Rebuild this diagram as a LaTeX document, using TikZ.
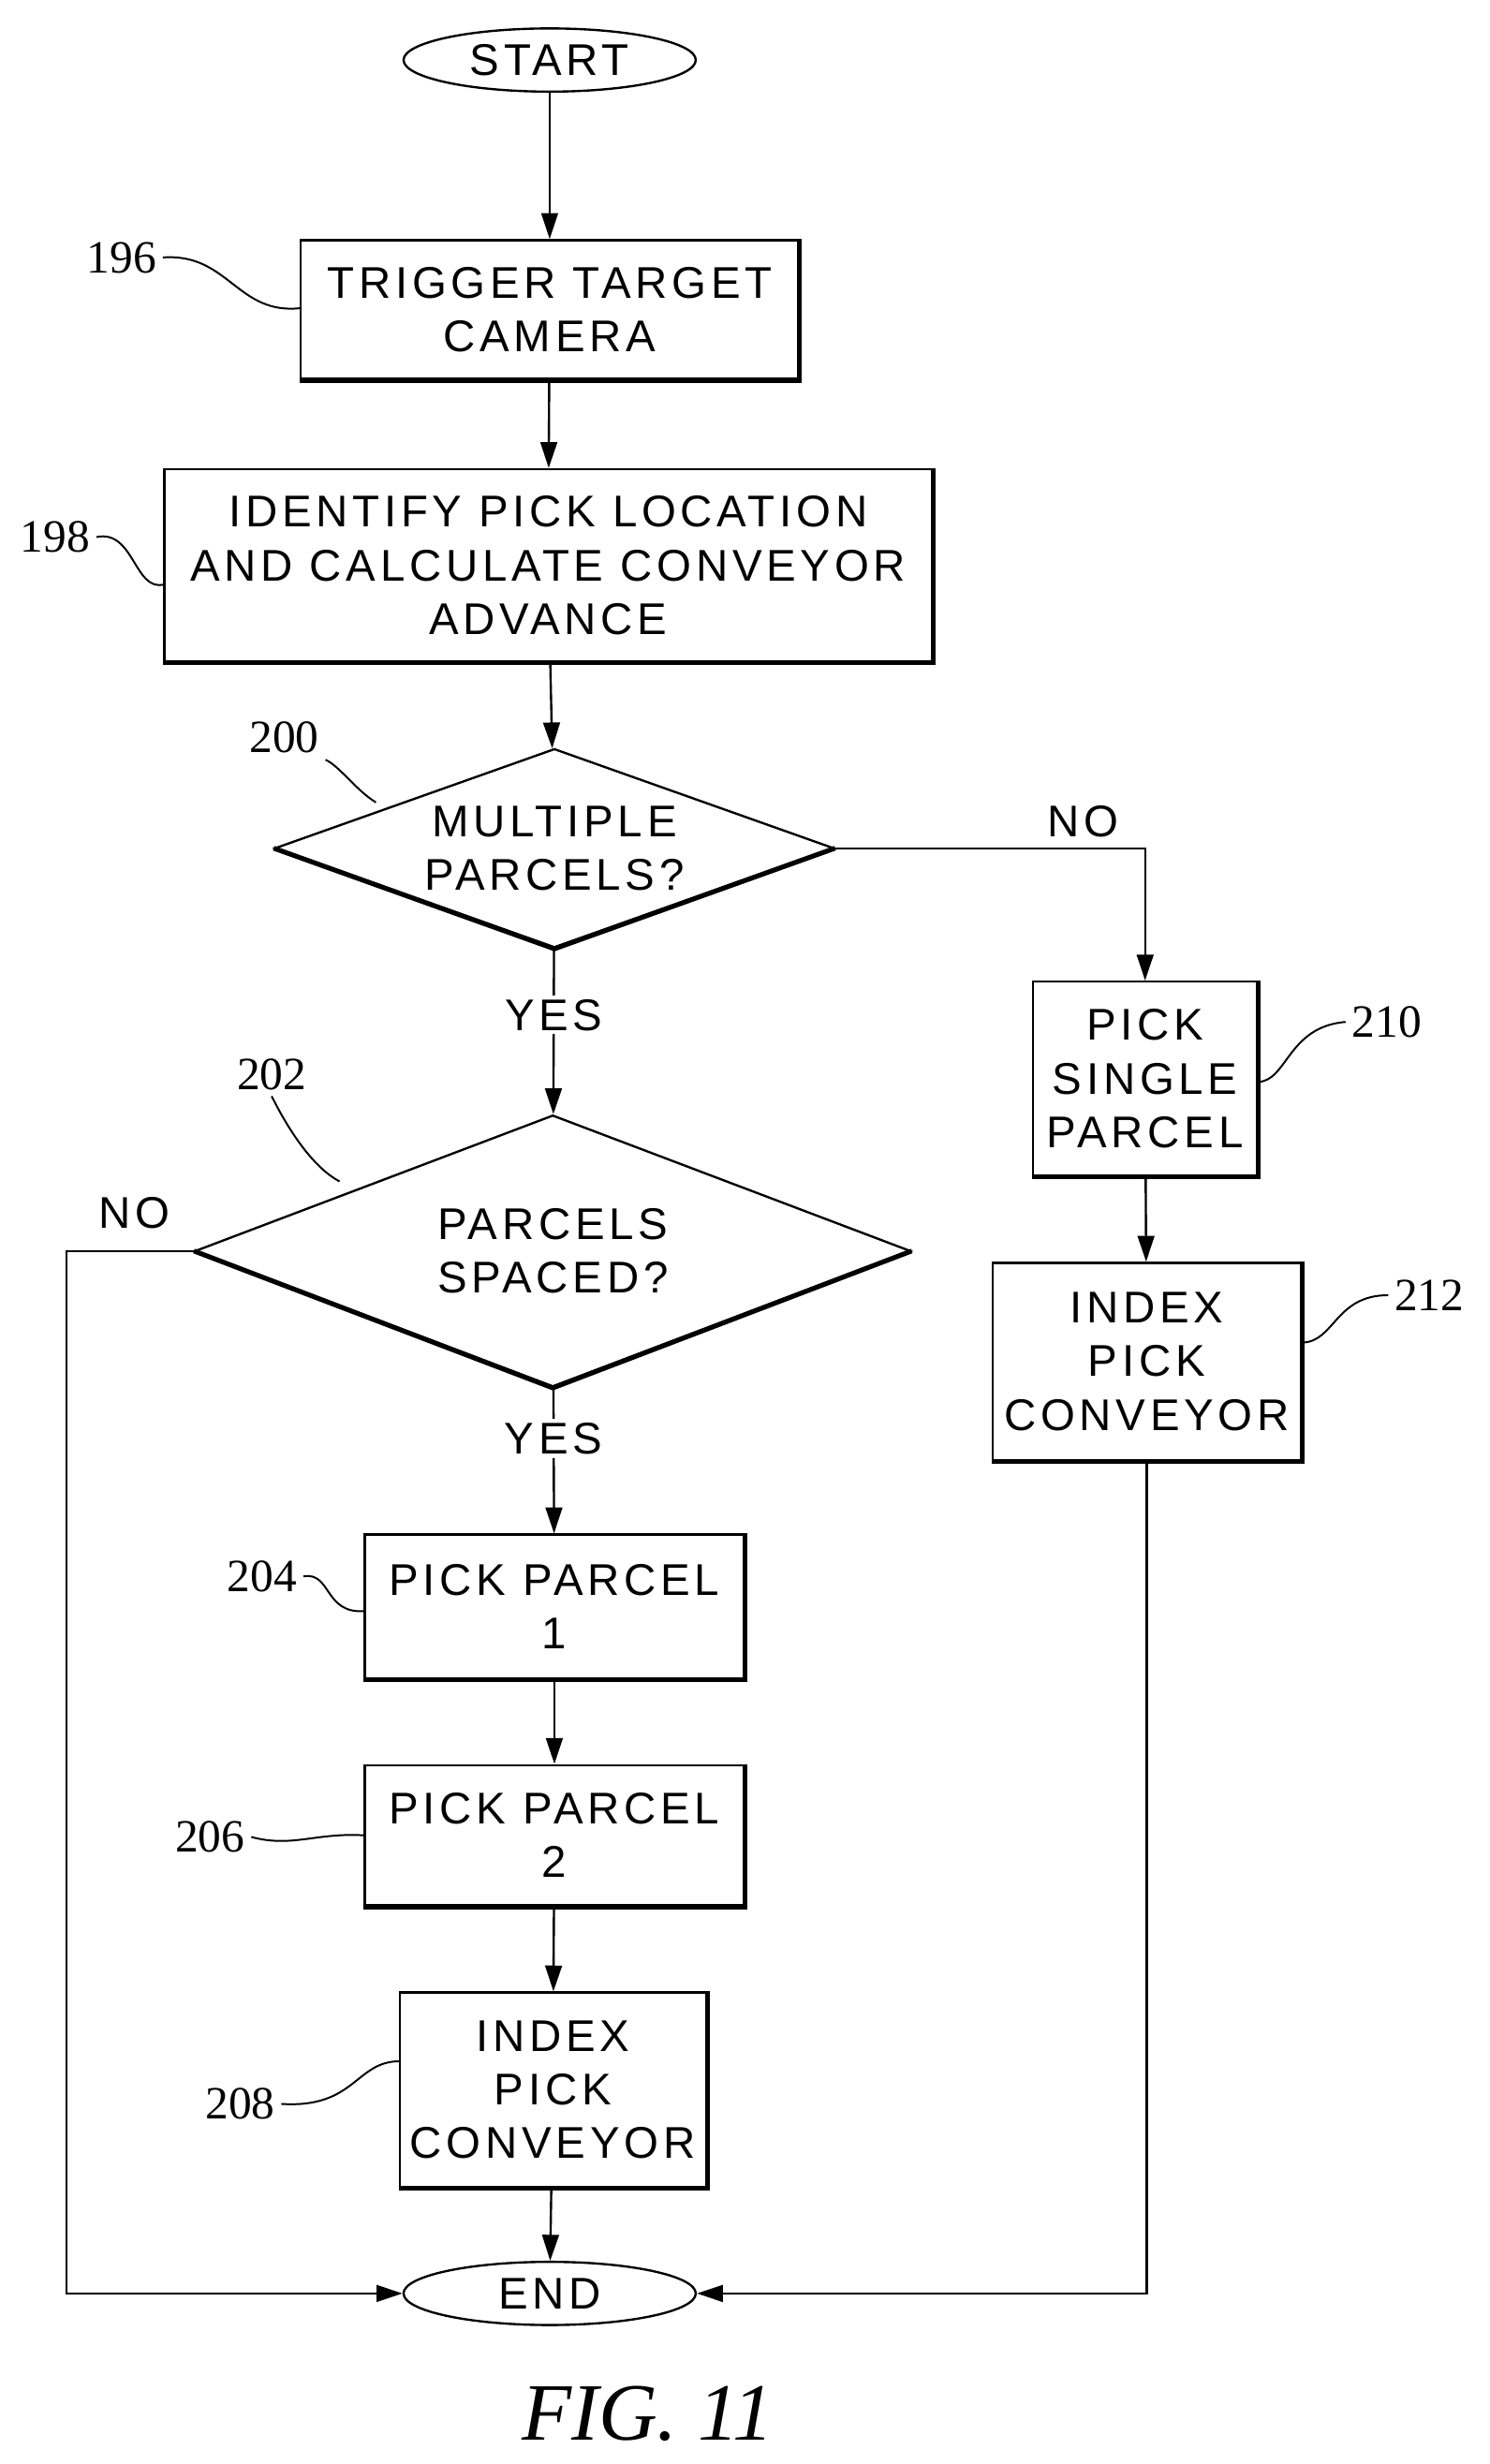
\documentclass[tikz,border=0pt]{standalone}
\usepackage{fontspec}
\setmainfont{Liberation Serif}
\newfontfamily\boxfont[LetterSpace=10]{Liberation Sans}
\usetikzlibrary{shapes.geometric,arrows.meta}
\begin{document}
\begin{tikzpicture}[x=0.03cm,y=-0.03cm,
    every node/.style={font=\boxfont\fontsize{24}{29}\selectfont},
    box/.style={draw,line width=1.2pt,align=center,inner sep=0pt},
    term/.style={draw,ellipse,line width=1.2pt,minimum width=5.55cm,minimum height=1.2cm,inner sep=0pt},
    dec/.style={draw,diamond,line width=1.2pt,align=center,inner sep=0pt},
    num/.style={font=\fontsize{25}{30}\selectfont},
    flow/.style={line width=1.2pt,-{Triangle[length=14pt,width=9pt]}},
    link/.style={line width=1pt}]
    % Frame
    \useasboundingbox (0,0) rectangle (943,1560);
    % Terminals
    \node[term] (start) at (348,38) {START};
    \node[term] (end) at (348,1452) {END};
    % Process boxes
    \node[box,minimum width=9.45cm,minimum height=2.64cm] (trigger) at (348,196) {TRIGGER TARGET\\CAMERA};
    \node[box,minimum width=14.58cm,minimum height=3.66cm] (identify) at (347,358) {IDENTIFY PICK LOCATION\\AND CALCULATE CONVEYOR\\ADVANCE};
    \node[box,minimum width=7.2cm,minimum height=2.73cm] (pickone) at (351,1017) {PICK PARCEL\\1};
    \node[box,minimum width=7.2cm,minimum height=2.67cm] (picktwo) at (351,1162) {PICK PARCEL\\2};
    \node[box,minimum width=5.82cm,minimum height=3.69cm] (indexl) at (350,1323) {INDEX\\PICK\\CONVEYOR};
    \node[box,minimum width=4.26cm,minimum height=3.69cm] (single) at (725,683) {PICK\\SINGLE\\PARCEL};
    \node[box,minimum width=5.85cm,minimum height=3.75cm] (indexr) at (726,862) {INDEX\\PICK\\CONVEYOR};
    % Thick lower and right edges
    \foreach \n in {trigger,identify,pickone,picktwo,indexl,single,indexr}
        \draw[line width=2.6pt] (\n.south west) -- (\n.south east) -- (\n.north east);
    % Decisions
    \node[dec,shape aspect=2.8,minimum width=10.62cm,minimum height=3.78cm] (multi) at (351,537) {MULTIPLE\\PARCELS?};
    \node[dec,shape aspect=2.63,minimum width=13.59cm,minimum height=5.16cm] (spaced) at (350,792) {PARCELS\\SPACED?};
    \draw[line width=2.6pt] (multi.west) -- (multi.south) -- (multi.east);
    \draw[line width=2.6pt] (spaced.west) -- (spaced.south) -- (spaced.east);
    % Flow
    \draw[flow] (start) -- (trigger);
    \draw[flow] (trigger) -- (identify);
    \draw[flow] (identify) -- (multi);
    \draw[flow] (multi) -- node[fill=white,inner sep=2pt,pos=0.4] {YES} (spaced);
    \draw[flow] (spaced) -- node[fill=white,inner sep=2pt,pos=0.35] {YES} (pickone);
    \draw[flow] (pickone) -- (picktwo);
    \draw[flow] (picktwo) -- (indexl);
    \draw[flow] (indexl) -- (end);
    \draw[flow] (single) -- (indexr);
    \draw[flow] (multi.east) -| node[pos=0.4,above=2pt] {NO} (single.north);
    \draw[flow] (spaced.west) -- (42,792) |- (end.west);
    \node at (85,768) {NO};
    \draw[flow] (indexr.south) |- (end.east);
    % Reference numerals
    \node[num] (n196) at (77,163) {196};
    \node[num] (n198) at (35,340) {198};
    \node[num] (n200) at (180,467) {200};
    \node[num] (n202) at (172,680) {202};
    \node[num] (n204) at (166,998) {204};
    \node[num] (n206) at (133,1163) {206};
    \node[num] (n208) at (152,1332) {208};
    \node[num] (n210) at (878,647) {210};
    \node[num] (n212) at (905,820) {212};
    \draw[link] (n196.east) .. controls (145,160) and (150,200) .. (191,195);
    \draw[link] (n198.east) .. controls (85,335) and (85,375) .. (104,370);
    \draw[link] (n200.south east) .. controls (215,485) and (225,500) .. (238,508);
    \draw[link] (n202.south) .. controls (185,720) and (200,740) .. (215,748);
    \draw[link] (n204.east) .. controls (210,995) and (205,1022) .. (231,1020);
    \draw[link] (n206.east) .. controls (185,1170) and (200,1160) .. (231,1162);
    \draw[link] (n208.east) .. controls (225,1335) and (225,1305) .. (253,1305);
    \draw[link] (n210.west) .. controls (815,650) and (815,685) .. (796,685);
    \draw[link] (n212.west) .. controls (845,820) and (845,850) .. (824,850);
    % Caption
    \node[font=\fontsize{44}{52}\selectfont\itshape] (fig) at (410,1528) {FIG. 11};
\end{tikzpicture}
\end{document}
